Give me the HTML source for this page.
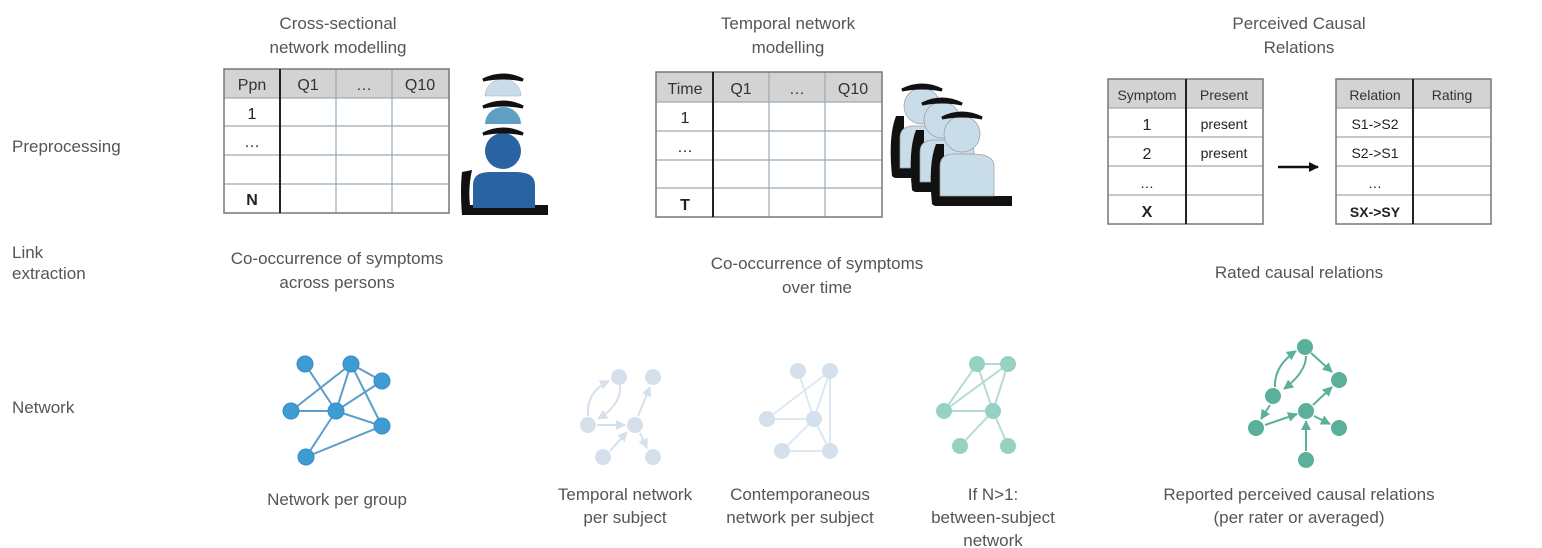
<!DOCTYPE html>
<html><head><meta charset="utf-8"><style>
html,body{margin:0;padding:0;background:#fff}
svg{display:block}
text{font-family:"Liberation Sans",sans-serif;fill:#555}
</style></head><body>
<svg width="1542" height="548" viewBox="0 0 1542 548" xmlns="http://www.w3.org/2000/svg">
<defs>
<marker id="a1" viewBox="0 0 10 10" refX="9" refY="5" markerWidth="5" markerHeight="5" orient="auto"><path d="M0,0L10,5L0,10z" fill="#d4e1ec"/></marker>
<marker id="a2" viewBox="0 0 10 10" refX="9" refY="5" markerWidth="5" markerHeight="5" orient="auto"><path d="M0,0L10,5L0,10z" fill="#5bb09c"/></marker>
<marker id="a3" viewBox="0 0 10 10" refX="9" refY="5" markerWidth="4" markerHeight="4" orient="auto"><path d="M0,0L10,5L0,10z" fill="#111"/></marker>
<g id="pers">
<path d="M-26,10 Q-34,30 -30,70 Q-28,72 -26,72 L50,72 L50,62 L-18,62 L-18,10 Z" fill="#111"/>
<circle cx="0" cy="0" r="18" fill="#c9dcea" stroke="#999" stroke-width="0.7"/>
<path d="M-22,62 L-22,32 Q-22,20 -8,20 L10,20 Q32,20 32,32 L32,62 Z" fill="#c9dcea" stroke="#999" stroke-width="0.7"/>
<path d="M-20,-16 Q0,-26 20,-16 Q0,-20 -20,-16Z" fill="#111" stroke="#111" stroke-width="3"/>
</g>
</defs>
<g font-size="17">
<text x="12" y="152">Preprocessing</text>
<text x="12" y="258">Link</text>
<text x="12" y="279">extraction</text>
<text x="12" y="413">Network</text>
</g>
<g font-size="17" text-anchor="middle">
<text x="338" y="29">Cross-sectional</text><text x="338" y="53">network modelling</text>
<text x="788" y="29">Temporal network</text><text x="788" y="53">modelling</text>
<text x="1299" y="29">Perceived Causal</text><text x="1299" y="53">Relations</text>
<text x="337" y="264">Co-occurrence of symptoms</text><text x="337" y="288">across persons</text>
<text x="817" y="269">Co-occurrence of symptoms</text><text x="817" y="293">over time</text>
<text x="1299" y="278">Rated causal relations</text>
<text x="337" y="505">Network per group</text>
<text x="625" y="500">Temporal network</text><text x="625" y="523">per subject</text>
<text x="800" y="500">Contemporaneous</text><text x="800" y="523">network per subject</text>
<text x="993" y="500">If N&gt;1:</text><text x="993" y="523">between-subject</text><text x="993" y="546">network</text>
<text x="1299" y="500">Reported perceived causal relations</text><text x="1299" y="523">(per rater or averaged)</text>
</g>

<!-- Table 1 -->
<g>
<rect x="224" y="69" width="225" height="29" fill="#d3d3d3"/>
<g stroke="#9aaab8" stroke-width="1.2" fill="none">
<line x1="224" y1="98" x2="449" y2="98"/><line x1="224" y1="126" x2="449" y2="126"/><line x1="224" y1="155" x2="449" y2="155"/><line x1="224" y1="184" x2="449" y2="184"/>
<line x1="336" y1="69" x2="336" y2="213"/><line x1="392" y1="69" x2="392" y2="213"/>
</g>
<rect x="224" y="69" width="225" height="144" fill="none" stroke="#777" stroke-width="1.5"/>
<line x1="280" y1="69" x2="280" y2="213" stroke="#222" stroke-width="2"/>
<g font-size="16" text-anchor="middle">
<text x="252" y="90" style="fill:#333">Ppn</text><text x="308" y="90" style="fill:#333">Q1</text><text x="364" y="90" style="fill:#333">…</text><text x="420" y="90" style="fill:#333">Q10</text>
<text x="252" y="119" style="fill:#222">1</text><text x="252" y="147" style="fill:#222">…</text><text x="252" y="205" font-weight="bold" style="fill:#222">N</text>
</g>
</g>
<!-- person 1 -->
<g>
<path d="M462,172 Q460,190 462,215 L548,215 L548,205 L470,205 Q468,188 472,170 Z" fill="#111"/>
<path d="M485,96 A18,17 0 0 1 521,96 Z" fill="#c9dcea" stroke="#aaa" stroke-width="0.5"/>
<path d="M485,124 A18,17 0 0 1 521,124 Z" fill="#5f9fc4"/>
<circle cx="503" cy="151" r="18" fill="#2a63a1"/>
<path d="M473,208 L473,185 Q473,172 490,172 L516,172 Q535,172 535,185 L535,208 Z" fill="#2a63a1"/>
<path d="M483,80 Q503,70 523,80 Q503,76 483,80Z" fill="#111" stroke="#111" stroke-width="3"/>
<path d="M483,107 Q503,97 523,107 Q503,103 483,107Z" fill="#111" stroke="#111" stroke-width="3"/>
<path d="M483,134 Q503,124 523,134 Q503,130 483,134Z" fill="#111" stroke="#111" stroke-width="3"/>
</g>

<!-- Table 2 -->
<g>
<rect x="656" y="72" width="226" height="30" fill="#d3d3d3"/>
<g stroke="#9aaab8" stroke-width="1.2" fill="none">
<line x1="656" y1="102" x2="882" y2="102"/><line x1="656" y1="131" x2="882" y2="131"/><line x1="656" y1="160" x2="882" y2="160"/><line x1="656" y1="188" x2="882" y2="188"/>
<line x1="769" y1="72" x2="769" y2="217"/><line x1="825" y1="72" x2="825" y2="217"/>
</g>
<rect x="656" y="72" width="226" height="145" fill="none" stroke="#777" stroke-width="1.5"/>
<line x1="713" y1="72" x2="713" y2="217" stroke="#222" stroke-width="2"/>
<g font-size="16" text-anchor="middle">
<text x="685" y="94" style="fill:#333">Time</text><text x="741" y="94" style="fill:#333">Q1</text><text x="797" y="94" style="fill:#333">…</text><text x="853" y="94" style="fill:#333">Q10</text>
<text x="685" y="123" style="fill:#222">1</text><text x="685" y="152" style="fill:#222">…</text><text x="685" y="210" font-weight="bold" style="fill:#222">T</text>
</g>
</g>
<!-- persons 2 -->
<use href="#pers" transform="translate(922,106)"/>
<use href="#pers" transform="translate(942,120)"/>
<use href="#pers" transform="translate(962,134)"/>

<!-- Table 3 -->
<g>
<rect x="1108" y="79" width="155" height="29" fill="#d3d3d3"/>
<g stroke="#9aaab8" stroke-width="1.2"><line x1="1108" y1="108" x2="1263" y2="108"/><line x1="1108" y1="137" x2="1263" y2="137"/><line x1="1108" y1="166" x2="1263" y2="166"/><line x1="1108" y1="195" x2="1263" y2="195"/></g>
<rect x="1108" y="79" width="155" height="145" fill="none" stroke="#777" stroke-width="1.5"/>
<line x1="1186" y1="79" x2="1186" y2="224" stroke="#222" stroke-width="2"/>
<g font-size="14" text-anchor="middle">
<text x="1147" y="100" style="fill:#333">Symptom</text><text x="1224" y="100" style="fill:#333">Present</text>
<text x="1147" y="130" font-size="16" style="fill:#222">1</text><text x="1224" y="129" style="fill:#222">present</text>
<text x="1147" y="159" font-size="16" style="fill:#222">2</text><text x="1224" y="158" style="fill:#222">present</text>
<text x="1147" y="188" style="fill:#222">…</text><text x="1147" y="217" font-size="16" font-weight="bold" style="fill:#222">X</text>
</g>
</g>
<line x1="1278" y1="167" x2="1318" y2="167" stroke="#111" stroke-width="2.5" marker-end="url(#a3)"/>
<!-- Table 4 -->
<g>
<rect x="1336" y="79" width="155" height="29" fill="#d3d3d3"/>
<g stroke="#9aaab8" stroke-width="1.2"><line x1="1336" y1="108" x2="1491" y2="108"/><line x1="1336" y1="137" x2="1491" y2="137"/><line x1="1336" y1="166" x2="1491" y2="166"/><line x1="1336" y1="195" x2="1491" y2="195"/></g>
<rect x="1336" y="79" width="155" height="145" fill="none" stroke="#777" stroke-width="1.5"/>
<line x1="1413" y1="79" x2="1413" y2="224" stroke="#222" stroke-width="2"/>
<g font-size="14" text-anchor="middle">
<text x="1375" y="100" style="fill:#333">Relation</text><text x="1452" y="100" style="fill:#333">Rating</text>
<text x="1375" y="129" style="fill:#222">S1-&gt;S2</text><text x="1375" y="158" style="fill:#222">S2-&gt;S1</text>
<text x="1375" y="188" style="fill:#222">…</text><text x="1375" y="217" font-weight="bold" style="fill:#222">SX-&gt;SY</text>
</g>
</g>

<!-- Network 1 -->
<g stroke="#5b9dcc" stroke-width="2">
<line x1="305" y1="364" x2="336" y2="411"/><line x1="351" y1="364" x2="291" y2="411"/><line x1="351" y1="364" x2="336" y2="411"/>
<line x1="351" y1="364" x2="382" y2="381"/><line x1="351" y1="364" x2="382" y2="426"/><line x1="291" y1="411" x2="336" y2="411"/>
<line x1="336" y1="411" x2="382" y2="381"/><line x1="336" y1="411" x2="382" y2="426"/><line x1="336" y1="411" x2="306" y2="457"/>
<line x1="306" y1="457" x2="382" y2="426"/>
</g>
<g fill="#3d9cd4" stroke="#3a8cc2">
<circle cx="305" cy="364" r="8"/><circle cx="351" cy="364" r="8"/><circle cx="382" cy="381" r="8"/><circle cx="291" cy="411" r="8"/><circle cx="336" cy="411" r="8"/><circle cx="382" cy="426" r="8"/><circle cx="306" cy="457" r="8"/>
</g>

<!-- Temporal network -->
<g stroke="#d4e1ec" stroke-width="2" fill="none">
<path d="M588,416 Q586,392 609,381" marker-end="url(#a1)"/>
<path d="M620,385 Q622,404 598,419" marker-end="url(#a1)"/>
<line x1="597" y1="425" x2="625" y2="425" marker-end="url(#a1)"/>
<line x1="610" y1="451" x2="627" y2="432" marker-end="url(#a1)"/>
<line x1="638" y1="416" x2="650" y2="387" marker-end="url(#a1)"/>
<line x1="640" y1="433" x2="647" y2="448" marker-end="url(#a1)"/>
</g>
<g fill="#d4e1ec"><circle cx="619" cy="377" r="8"/><circle cx="653" cy="377" r="8"/><circle cx="588" cy="425" r="8"/><circle cx="635" cy="425" r="8"/><circle cx="603" cy="457" r="8"/><circle cx="653" cy="457" r="8"/></g>

<!-- Contemporaneous -->
<g stroke="#dfe8f0" stroke-width="2">
<line x1="798" y1="371" x2="814" y2="419"/><line x1="830" y1="371" x2="767" y2="419"/><line x1="830" y1="371" x2="814" y2="419"/><line x1="830" y1="371" x2="830" y2="451"/>
<line x1="767" y1="419" x2="814" y2="419"/><line x1="814" y1="419" x2="782" y2="451"/><line x1="814" y1="419" x2="830" y2="451"/><line x1="782" y1="451" x2="830" y2="451"/>
</g>
<g fill="#d4e1ec"><circle cx="798" cy="371" r="8"/><circle cx="830" cy="371" r="8"/><circle cx="767" cy="419" r="8"/><circle cx="814" cy="419" r="8"/><circle cx="782" cy="451" r="8"/><circle cx="830" cy="451" r="8"/></g>

<!-- Between -->
<g stroke="#b3ddd3" stroke-width="2">
<line x1="977" y1="364" x2="1008" y2="364"/><line x1="977" y1="364" x2="993" y2="411"/><line x1="1008" y1="364" x2="944" y2="411"/><line x1="1008" y1="364" x2="993" y2="411"/>
<line x1="944" y1="411" x2="977" y2="364"/><line x1="944" y1="411" x2="993" y2="411"/><line x1="993" y1="411" x2="960" y2="446"/><line x1="993" y1="411" x2="1008" y2="446"/>
</g>
<g fill="#96d1c4"><circle cx="977" cy="364" r="8"/><circle cx="1008" cy="364" r="8"/><circle cx="944" cy="411" r="8"/><circle cx="993" cy="411" r="8"/><circle cx="960" cy="446" r="8"/><circle cx="1008" cy="446" r="8"/></g>

<!-- Causal -->
<g stroke="#5bb09c" stroke-width="2" fill="none">
<line x1="1311" y1="353" x2="1332" y2="372" marker-end="url(#a2)"/>
<path d="M1275,387 Q1274,366 1296,351" marker-end="url(#a2)"/>
<path d="M1306,356 Q1306,372 1284,389" marker-end="url(#a2)"/>
<line x1="1270" y1="405" x2="1261" y2="419" marker-end="url(#a2)"/>
<line x1="1265" y1="425" x2="1297" y2="414" marker-end="url(#a2)"/>
<line x1="1313" y1="405" x2="1332" y2="387" marker-end="url(#a2)"/>
<line x1="1314" y1="416" x2="1330" y2="424" marker-end="url(#a2)"/>
<line x1="1306" y1="451" x2="1306" y2="421" marker-end="url(#a2)"/>
</g>
<g fill="#5bb09c"><circle cx="1305" cy="347" r="8"/><circle cx="1339" cy="380" r="8"/><circle cx="1273" cy="396" r="8"/><circle cx="1306" cy="411" r="8"/><circle cx="1339" cy="428" r="8"/><circle cx="1256" cy="428" r="8"/><circle cx="1306" cy="460" r="8"/></g>
</svg>
</body></html>
